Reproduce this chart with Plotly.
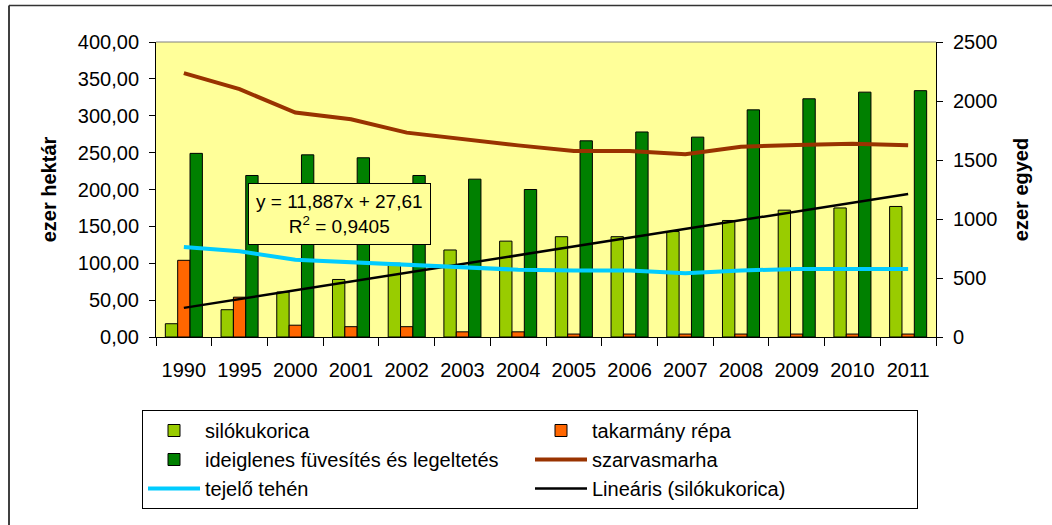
import plotly.graph_objects as go

years = ["1990", "1995", "2000", "2001", "2002", "2003", "2004",
         "2005", "2006", "2007", "2008", "2009", "2010", "2011"]

silokukorica = [18, 37, 61, 78, 100, 118, 130, 136, 136, 143, 158, 172, 175, 177]
takarmany_repa = [104, 54, 16, 14, 14, 7, 7, 4, 4, 4, 4, 4, 4, 4]
ideiglenes = [249, 219, 247, 243, 219, 214, 200, 266, 278, 271, 308, 323, 332, 334]
szarvasmarha = [2236, 2100, 1902, 1845, 1732, 1675, 1624, 1576, 1576, 1548, 1613, 1627, 1638, 1624]
tejelo_tehen = [763, 726, 655, 635, 612, 593, 570, 564, 564, 541, 564, 576, 576, 576]

# trendline printed on the chart: y = 11,887x + 27,61 (x = 1..n)
trend_slope = 11.887
trend_intercept = 27.61
trend_values = [trend_slope * (i + 1) + trend_intercept for i in range(len(years))]

left_ticks = [0, 50, 100, 150, 200, 250, 300, 350, 400]
right_ticks = [0, 500, 1000, 1500, 2000, 2500]

FONT = "Liberation Sans, Arial, sans-serif"

fig = go.Figure()
fig.add_trace(go.Bar(x=years, y=silokukorica, name="silókukorica",
                     marker=dict(color="#99CC00", line=dict(color="black", width=1))))
fig.add_trace(go.Bar(x=years, y=takarmany_repa, name="takarmány répa",
                     marker=dict(color="#FF6600", line=dict(color="black", width=1))))
fig.add_trace(go.Bar(x=years, y=ideiglenes, name="ideiglenes füvesítés és legeltetés",
                     marker=dict(color="#008000", line=dict(color="black", width=1))))
fig.add_trace(go.Scatter(x=years, y=szarvasmarha, name="szarvasmarha", mode="lines",
                         line=dict(color="#993300", width=4), yaxis="y2"))
fig.add_trace(go.Scatter(x=years, y=tejelo_tehen, name="tejelő tehén", mode="lines",
                         line=dict(color="#00CCFF", width=4), yaxis="y2"))
fig.add_trace(go.Scatter(x=years, y=trend_values, name="Lineáris (silókukorica)", mode="lines",
                         line=dict(color="black", width=2.5)))

L, R, T, B = 156, 116, 42, 188
W, H = 1052, 525
pw, ph = W - L - R, H - T - B

def px_x(p):
    return (p - L) / pw

def px_y(p):
    return (H - B - p) / ph

fig.update_layout(
    width=W, height=H,
    margin=dict(l=L, r=R, t=T, b=B, pad=0, autoexpand=False),
    paper_bgcolor="white",
    plot_bgcolor="#FFFF99",
    separators=",.",
    font=dict(family=FONT, size=20, color="black"),
    barmode="group",
    bargap=0.335,
    bargroupgap=0,
    showlegend=True,
    legend=dict(
        orientation="h",
        x=px_x(142), y=px_y(410), xanchor="left", yanchor="top",
        bgcolor="white", bordercolor="black", borderwidth=1,
        font=dict(family=FONT, size=20),
        entrywidth=320, entrywidthmode="pixels",
        traceorder="normal",
        itemwidth=52,
    ),
    xaxis=dict(
        type="category",
        showline=True, linecolor="black", linewidth=1,
        ticks="outside", tickson="boundaries", ticklen=8, tickcolor="black",
        tickfont=dict(size=20),
        ticklabelstandoff=15,
        showgrid=False, zeroline=False,
    ),
    yaxis=dict(
        range=[0, 400], tickvals=left_ticks, tickformat=".2f",
        showline=True, linecolor="black", linewidth=1,
        ticks="outside", ticklen=6, tickcolor="black",
        tickfont=dict(size=20),
        ticklabelstandoff=6,
        showgrid=False, zeroline=False,
        title=dict(text="<b>ezer hektár</b>", font=dict(size=20), standoff=15),
    ),
    yaxis2=dict(
        range=[0, 2500], tickvals=right_ticks,
        overlaying="y", side="right",
        showline=True, linecolor="black", linewidth=1,
        ticks="outside", ticklen=6, tickcolor="black",
        tickfont=dict(size=20),
        ticklabelstandoff=6,
        showgrid=False, zeroline=False,
        title=dict(text="<b>ezer egyed</b>", font=dict(size=20), standoff=17),
    ),
    annotations=[dict(
        text="y = 11,887x + 27,61<br>R<sup>2</sup> = 0,9405",
        xref="paper", yref="paper", x=px_x(339), y=px_y(214),
        xanchor="center", yanchor="middle", showarrow=False,
        font=dict(family=FONT, size=19, color="black"),
        bgcolor="#FFFF99", bordercolor="black", borderwidth=1, borderpad=7,
    )],
    shapes=[
        # plot area top border (grey)
        dict(type="line", xref="paper", yref="paper", x0=0, x1=1, y0=1, y1=1,
             line=dict(color="#808080", width=1)),
        # outer chart frame (left and top edges visible)
        dict(type="line", xref="paper", yref="paper",
             x0=px_x(9), x1=px_x(9), y0=px_y(5.5), y1=px_y(530),
             line=dict(color="#404040", width=2)),
        dict(type="line", xref="paper", yref="paper",
             x0=px_x(9), x1=px_x(1060), y0=px_y(5.5), y1=px_y(5.5),
             line=dict(color="#333333", width=1.5)),
    ],
)

fig.write_html("out.html", config={"displayModeBar": False},
               post_script="document.body.style.margin='0px';")
